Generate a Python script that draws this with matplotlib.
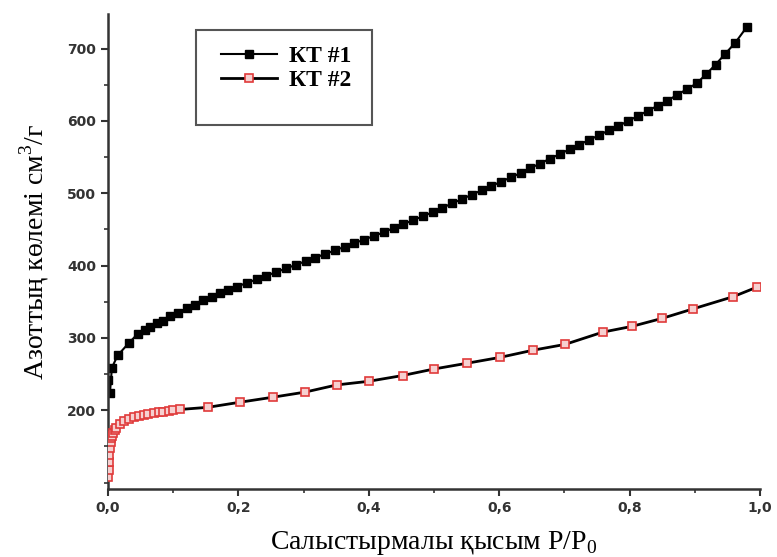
import matplotlib.pyplot as plt
from matplotlib.patches import Rectangle
from matplotlib.ticker import MultipleLocator, FuncFormatter

plt.rcParams['mathtext.fontset'] = 'custom'
plt.rcParams['mathtext.rm'] = 'Liberation Serif'

# KT #1 isotherm
kt1_x = [0.000, 0.003, 0.006, 0.015, 0.032, 0.046, 0.057, 0.064, 0.075, 0.084,
         0.095, 0.107, 0.121, 0.133, 0.146, 0.160, 0.172, 0.184,
         0.198, 0.213, 0.228, 0.243, 0.258, 0.273, 0.288, 0.303, 0.318, 0.333,
         0.348, 0.363, 0.378, 0.393, 0.408, 0.423, 0.438, 0.453, 0.468, 0.483,
         0.498, 0.513, 0.528, 0.543, 0.558, 0.573, 0.588, 0.603, 0.618, 0.633,
         0.648, 0.663, 0.678, 0.693, 0.708, 0.723, 0.738, 0.753, 0.768, 0.783,
         0.798, 0.813, 0.828, 0.843, 0.858, 0.873, 0.888, 0.903, 0.918, 0.932,
         0.946, 0.962, 0.980]
kt1_y = [242, 224, 259, 276, 293, 306, 311, 315, 320, 324,
         330, 335, 341, 346, 352, 356, 362, 366,
         371, 376, 381, 386, 391, 396, 401, 406, 411, 416,
         421, 426, 431, 436, 441, 446, 452, 457, 463, 468,
         474, 480, 486, 492, 498, 504, 510, 516, 522, 528,
         535, 541, 548, 554, 561, 567, 574, 580, 587, 593,
         600, 607, 614, 621, 628, 636, 644, 652, 665, 678,
         692, 708, 730]

# KT #2 isotherm
kt2_x = [0.0005, 0.001, 0.0015, 0.002, 0.003, 0.004, 0.005, 0.006, 0.008, 0.010,
         0.012, 0.018, 0.025, 0.032, 0.040, 0.047, 0.055, 0.062, 0.070, 0.078,
         0.085, 0.093, 0.100, 0.110, 0.153, 0.202, 0.253, 0.302, 0.351, 0.400,
         0.452, 0.500, 0.551, 0.601, 0.652, 0.701, 0.759, 0.804, 0.850, 0.897,
         0.959, 0.995]
kt2_y = [108, 118, 128, 138, 148, 156, 161, 165, 169, 172,
         175, 181, 185, 188, 190, 192, 194, 195, 196, 197,
         198, 199, 200, 201, 204, 211, 218, 225, 235, 240,
         248, 257, 265, 273, 283, 291, 308, 316, 327, 340,
         357, 370]

xticks = [0.0, 0.2, 0.4, 0.6, 0.8, 1.0]
yticks = [200, 300, 400, 500, 600, 700]

fig = plt.figure(figsize=(7.77, 5.57), dpi=100)
ax = fig.add_axes([0.139, 0.122, 0.839, 0.853])

ax.plot(kt1_x, kt1_y, '-', color='black', lw=1.5, marker='s', ms=6.3,
        mfc='black', mec='black', label='КТ #1')
ax.plot(kt2_x, kt2_y, '-', color='black', lw=2, marker='s', ms=6.3,
        mfc='#f6d0d0', mec='#e03a3a', mew=1.2, label='КТ #2', zorder=3)

ax.set_xlim(0, 1.0)
ax.set_ylim(91, 748)
ax.set_xticks(xticks)
ax.set_yticks(yticks)
ax.xaxis.set_minor_locator(MultipleLocator(0.1))
ax.yaxis.set_minor_locator(MultipleLocator(50))
ax.xaxis.set_major_formatter(FuncFormatter(lambda v, p: ('%.1f' % v).replace('.', ',')))

for s in ['top', 'right']:
    ax.spines[s].set_visible(False)
for s in ['left', 'bottom']:
    ax.spines[s].set_linewidth(1.8)
    ax.spines[s].set_color('#333333')

ax.tick_params(which='major', direction='out', length=5, width=1.5, colors='#333333')
ax.tick_params(which='minor', direction='out', length=3, width=1.2, colors='#333333')
for lab in ax.get_xticklabels() + ax.get_yticklabels():
    lab.set_fontweight('bold')
    lab.set_fontsize(10)
    lab.set_color('#333333')

ax.set_xlabel('Салыстырмалы қысым P/P$_0$', fontsize=20, family='Liberation Serif',
              labelpad=10)
ax.set_ylabel('Азоттың көлемі см$^3$/г', fontsize=20, family='Liberation Serif',
              labelpad=12)

# legend frame with empty space below entries
ax.add_patch(Rectangle((0.135, 0.766), 0.27, 0.2, transform=ax.transAxes,
                       fill=False, edgecolor='#555555', lw=1.5, zorder=5))
ax.legend(loc='upper left', bbox_to_anchor=(0.14, 0.978), frameon=False,
          prop={'family': 'Liberation Serif', 'weight': 'bold', 'size': 17},
          handlelength=2.4, labelspacing=0.1, handletextpad=0.5)

fig.savefig('out.png', dpi=100)
